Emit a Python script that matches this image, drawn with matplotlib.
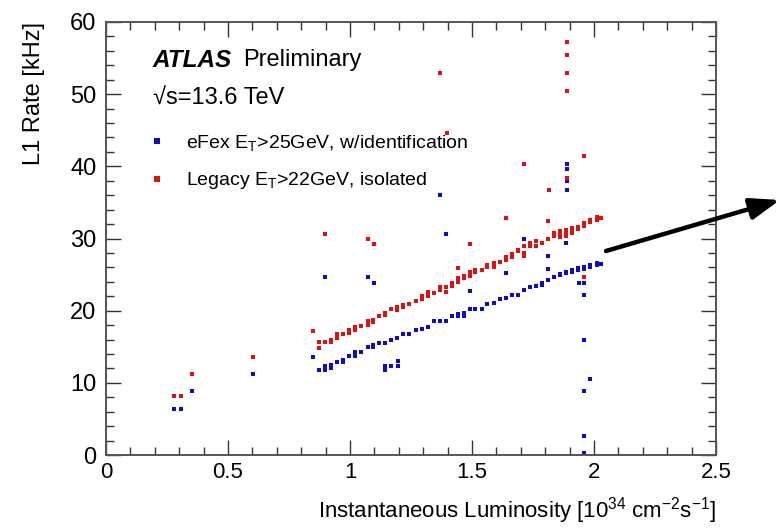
#!/usr/bin/env python3
"""L1 rate vs instantaneous luminosity, eFex vs Legacy EM triggers (ATLAS style)."""
import matplotlib
matplotlib.use("Agg")
import matplotlib.pyplot as plt
from matplotlib import font_manager

# ---- data ----
# Legacy E_T>22GeV, isolated (red)
legacy_x = [0.279, 0.306, 0.353, 0.602, 0.847,
            0.871, 0.871, 0.899, 0.923, 0.923, 0.948, 0.948, 0.972, 0.997, 0.997,
            1.021, 1.021, 1.047, 1.072, 1.072, 1.096, 1.096, 1.119, 1.145, 1.145,
            1.168, 1.193, 1.193, 1.217, 1.217, 1.243, 1.269, 1.294, 1.294, 1.318,
            1.318, 1.343, 1.367, 1.367, 1.392, 1.392, 1.417, 1.417, 1.442, 1.442,
            1.442, 1.466, 1.466, 1.491, 1.491, 1.514, 1.514, 1.539, 1.563, 1.563,
            1.589, 1.589, 1.614, 1.639, 1.639, 1.664, 1.664, 1.689, 1.689, 1.713,
            1.713, 1.713, 1.739, 1.739, 1.763, 1.763, 1.787, 1.811, 1.837, 1.837,
            1.861, 1.861, 1.861, 1.886, 1.886, 1.886, 1.910, 1.910, 1.910, 1.936,
            1.936, 1.960, 1.960, 1.985, 1.985, 2.011, 2.011, 2.030,
            0.899, 1.072, 1.099, 1.368, 1.396, 1.491, 1.639, 1.714, 1.814, 1.811,
            1.889, 1.889, 1.889, 1.889, 1.889, 1.961, 1.961]
legacy_y = [8.2, 8.2, 11.2, 13.6, 17.2,
            15.6, 14.8, 15.6, 16.0, 15.6, 16.2, 16.7, 16.7, 17.3, 16.9,
            17.3, 17.8, 17.9, 18.5, 18.0, 18.7, 18.4, 19.2, 19.7, 19.4,
            20.2, 20.5, 20.1, 20.8, 20.5, 20.9, 21.3, 21.6, 22.0, 22.1,
            22.6, 22.5, 23.3, 22.9, 23.3, 22.6, 23.8, 23.4, 24.0, 24.5,
            25.9, 24.5, 24.8, 24.8, 25.3, 25.4, 25.7, 25.7, 26.0, 26.3,
            26.6, 26.1, 26.8, 27.0, 27.5, 27.5, 27.9, 28.4, 28.2, 28.9,
            28.0, 27.6, 28.9, 29.4, 29.6, 28.9, 29.4, 30.0, 30.4, 30.7,
            31.0, 30.5, 30.2, 31.2, 30.7, 30.4, 31.4, 31.0, 30.7, 31.6,
            31.3, 32.1, 31.7, 32.6, 32.3, 33.0, 32.6, 32.8,
            30.6, 30.0, 29.3, 53.0, 44.6, 29.3, 32.9, 40.3, 36.7, 32.4,
            57.2, 55.4, 52.9, 50.5, 38.4, 41.5, 24.6]

# eFex E_T>25GeV, w/identification (blue)
efex_x = [0.279, 0.306, 0.353, 0.602, 0.847,
          0.871, 0.899, 0.899, 0.923, 0.923, 0.948, 0.972, 0.972, 0.997, 1.021,
          1.021, 1.047, 1.072, 1.096, 1.096, 1.119, 1.145, 1.168, 1.193, 1.217,
          1.243, 1.269, 1.294, 1.318, 1.343, 1.367, 1.392, 1.417, 1.442, 1.442,
          1.466, 1.466, 1.491, 1.514, 1.539, 1.563, 1.589, 1.614, 1.639, 1.664,
          1.689, 1.713, 1.739, 1.763, 1.787, 1.787, 1.811, 1.837, 1.861, 1.861,
          1.886, 1.886, 1.910, 1.910, 1.936, 1.936, 1.960, 1.960, 1.985, 1.985,
          2.011, 2.011, 2.030,
          0.899, 1.072, 1.099, 1.144, 1.144, 1.168, 1.196, 1.196, 1.368, 1.393,
          1.491, 1.639, 1.714, 1.811, 1.811, 1.886, 1.889, 1.889, 1.889, 1.889,
          1.938, 1.961, 1.961, 1.961, 1.984, 1.961, 1.961, 1.961]
efex_y = [6.4, 6.4, 8.8, 11.2, 13.6,
          11.8, 11.8, 12.3, 12.5, 12.0, 12.9, 13.1, 12.9, 13.7, 13.7,
          14.3, 14.3, 14.9, 14.9, 15.2, 15.5, 15.5, 16.0, 16.2, 16.8,
          16.8, 17.3, 17.4, 17.8, 18.5, 18.5, 18.5, 19.2, 19.2, 19.6,
          19.7, 19.3, 20.2, 20.3, 20.3, 20.9, 21.0, 21.6, 21.8, 22.2,
          22.2, 22.9, 23.3, 23.4, 23.9, 23.6, 24.2, 24.7, 25.1, 24.9,
          25.2, 25.4, 25.6, 25.3, 25.9, 25.6, 26.1, 25.8, 26.3, 26.0,
          26.6, 26.3, 26.5,
          24.6, 24.6, 23.9, 12.3, 11.8, 12.4, 13.0, 12.4, 36.0, 30.6,
          22.7, 25.2, 30.0, 27.6, 25.8, 29.4, 40.3, 39.6, 37.9, 36.7,
          23.9, 23.9, 22.2, 16.0, 10.5, 8.9, 2.7, 0.3]

x_ticks = [0, 0.5, 1, 1.5, 2, 2.5]
x_ticklabels = ["0", "0.5", "1", "1.5", "2", "2.5"]
y_ticks = [0, 10, 20, 30, 40, 50, 60]
y_ticklabels = ["0", "10", "20", "30", "40", "50", "60"]

efex_label = r"eFex E$_\mathrm{T}$>25GeV, w/identification"
legacy_label = r"Legacy E$_\mathrm{T}$>22GeV, isolated"

# ---- fonts: Helvetica-like, narrow variant for the axis if present ----
names = {f.name for f in font_manager.fontManager.ttflist}
main_font = "Liberation Sans"
narrow_font = "Liberation Sans Narrow" if "Liberation Sans Narrow" in names else main_font
plt.rcParams["font.family"] = [main_font, "DejaVu Sans"]
plt.rcParams["mathtext.fontset"] = "custom"
plt.rcParams["mathtext.rm"] = main_font
plt.rcParams["mathtext.it"] = main_font + ":italic"
plt.rcParams["mathtext.bf"] = main_font + ":bold"

fig = plt.figure(figsize=(7.76, 5.29), dpi=100)
ax = fig.add_axes([106 / 776, 1 - 455 / 529, 610 / 776, 433 / 529])

ax.plot(efex_x, efex_y, ls="none", marker="s", ms=2.6, mew=0,
        color="#0c0cd0", label=efex_label)
ax.plot(legacy_x, legacy_y, ls="none", marker="s", ms=2.6, mew=0,
        color="#e01010", label=legacy_label)

ax.set_xlim(0, 2.5)
ax.set_ylim(0, 60)
ax.set_xticks(x_ticks)
ax.set_xticklabels(x_ticklabels, fontsize=16, family=narrow_font)
ax.set_yticks(y_ticks)
ax.set_yticklabels(y_ticklabels, fontsize=17)
ax.set_xticks([i / 10 for i in range(26)], minor=True)
ax.set_yticks(list(range(0, 61, 2)), minor=True)
ax.tick_params(which="both", direction="in", top=True, right=True, color="#333333")
ax.tick_params(which="major", length=11, width=1.0, pad=7)
ax.tick_params(which="minor", length=6, width=1.0)
ax.tick_params(axis="x", which="major", pad=5)
for sp in ax.spines.values():
    sp.set_color("#555555")
    sp.set_linewidth(1.4)

ax.set_xlabel(r"Instantaneous Luminosity [10$^{34}$ cm$^{-2}$s$^{-1}$]",
              fontsize=16, family=narrow_font, loc="right", labelpad=9)
ax.set_ylabel("L1 Rate [kHz]", fontsize=17, loc="top", labelpad=18)

# ATLAS label
ax.text(0.077, 0.912, "ATLAS", transform=ax.transAxes, fontsize=17.5,
        fontweight="bold", style="italic", va="center")
ax.text(0.224, 0.912, "Preliminary", transform=ax.transAxes, fontsize=17,
        va="center")
ax.text(0.077, 0.824, "√s=13.6 TeV", transform=ax.transAxes, fontsize=17,
        va="center", family=[main_font, "DejaVu Sans"])

ax.legend(loc="upper left", bbox_to_anchor=(0.055, 0.762), frameon=False,
          fontsize=14, markerscale=1.5, handlelength=1.0, handletextpad=1.0,
          labelspacing=0.9, borderaxespad=0)

# arrow running off the right edge
ax.annotate("", xy=(780 / 776, 1 - 200 / 529), xytext=(606 / 776, 1 - 251 / 529),
            xycoords="figure fraction", textcoords="figure fraction",
            annotation_clip=False,
            arrowprops=dict(arrowstyle="-|>,head_length=1.8,head_width=0.65",
                            color="black", lw=3.2, shrinkA=0, shrinkB=0))

fig.savefig("out.png", dpi=100)
